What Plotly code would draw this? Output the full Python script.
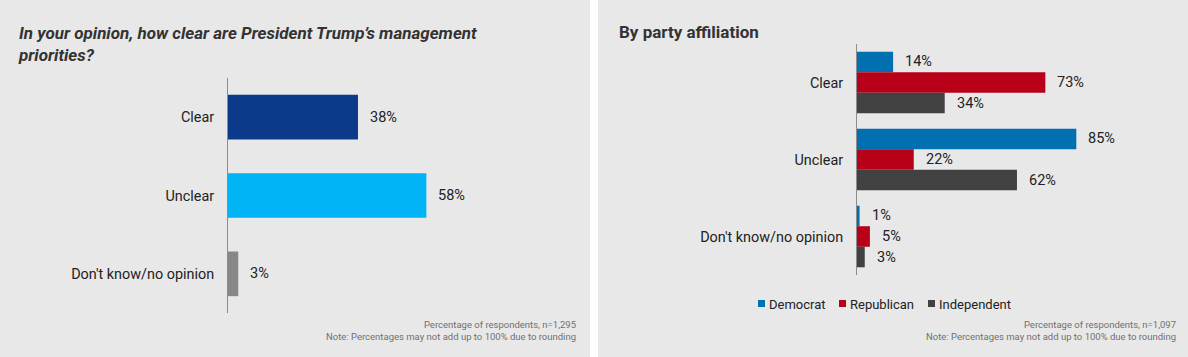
import plotly.graph_objects as go

# ---- data ----
categories = ["Clear", "Unclear", "Don't know/no opinion"]
overall_values = [38, 58, 3]
overall_colors = ["#0b3a8a", "#00b4f5", "#878787"]

party_names = ["Democrat", "Republican", "Independent"]
party_colors = ["#0070b0", "#b80018", "#414141"]
democrat = [14, 85, 1]
republican = [73, 22, 5]
independent = [34, 62, 3]
party_values = [democrat, republican, independent]

title_left = "In your opinion, how clear are President Trump\u2019s management<br>priorities?"
title_right = "By party affiliation"
note_left = "Percentage of respondents, n=1,295<br>Note: Percentages may not add up to 100% due to rounding"
note_right = "Percentage of respondents, n=1,097<br>Note: Percentages may not add up to 100% due to rounding"

W, H = 1188, 357
FONT = "Roboto"
BG = "#e8e8e8"

def px_x(p):
    return p / W

def px_y(p):
    return 1 - p / H

fig = go.Figure()

# left panel bars
fig.add_trace(go.Bar(
    x=overall_values, y=categories, orientation="h",
    marker=dict(color=overall_colors, line=dict(width=0)),
    width=0.57, xaxis="x", yaxis="y", showlegend=False, hoverinfo="skip",
))

# right panel grouped bars
bw = 0.8 / 3
for i, (name, col, vals) in enumerate(zip(party_names, party_colors, party_values)):
    fig.add_trace(go.Bar(
        x=vals, y=categories, orientation="h", name=name,
        marker=dict(color=col, line=dict(width=0)),
        width=bw, offset=-0.4 + i * bw,
        xaxis="x2", yaxis="y2", showlegend=False, hoverinfo="skip",
    ))

annotations = []
# value labels left
for j, v in enumerate(overall_values):
    annotations.append(dict(
        x=v, y=j, xref="x", yref="y", text=f"{v}%", showarrow=False,
        xanchor="left", yanchor="middle", xshift=10,
        font=dict(family=FONT, size=14.5, color="#222222"),
    ))
# value labels right
for i, vals in enumerate(party_values):
    for j, v in enumerate(vals):
        annotations.append(dict(
            x=v, y=j - 0.4 + (i + 0.5) * bw, xref="x2", yref="y2",
            text=f"{v}%", showarrow=False,
            xanchor="left", yanchor="middle", xshift=10,
            font=dict(family=FONT, size=14.5, color="#222222"),
        ))

# titles
annotations.append(dict(
    x=px_x(16), y=px_y(44), xref="paper", yref="paper",
    text=f"<b><i>{title_left}</i></b>", showarrow=False, align="left",
    xanchor="left", yanchor="middle",
    font=dict(family=FONT, size=17, color="#333333"),
))
annotations.append(dict(
    x=px_x(617), y=px_y(32), xref="paper", yref="paper",
    text=f"<b>{title_right}</b>", showarrow=False, align="left",
    xanchor="left", yanchor="middle",
    font=dict(family=FONT, size=17, color="#333333"),
))
# footnotes
annotations.append(dict(
    x=px_x(578), y=px_y(330.5), xref="paper", yref="paper",
    text=note_left, showarrow=False, align="right",
    xanchor="right", yanchor="middle",
    font=dict(family=FONT, size=9.5, color="#707070"),
))
annotations.append(dict(
    x=px_x(1178), y=px_y(330.5), xref="paper", yref="paper",
    text=note_right, showarrow=False, align="right",
    xanchor="right", yanchor="middle",
    font=dict(family=FONT, size=9.5, color="#707070"),
))

shapes = [
    dict(type="rect", xref="paper", yref="paper", x0=0, x1=px_x(590), y0=0, y1=1,
         fillcolor=BG, line=dict(width=0), layer="below"),
    dict(type="rect", xref="paper", yref="paper", x0=px_x(598), x1=1, y0=0, y1=1,
         fillcolor=BG, line=dict(width=0), layer="below"),
]

# custom legend
legend_sq_x = [758, 839, 928]
for name, col, sx in zip(party_names, party_colors, legend_sq_x):
    shapes.append(dict(
        type="rect", xref="paper", yref="paper",
        x0=px_x(sx), x1=px_x(sx + 7), y0=px_y(307), y1=px_y(300),
        fillcolor=col, line=dict(width=0),
    ))
    annotations.append(dict(
        x=px_x(sx + 9), y=px_y(304), xref="paper", yref="paper",
        text=name, showarrow=False, xanchor="left", yanchor="middle",
        font=dict(family=FONT, size=13, color="#222222"),
    ))

axis_common = dict(showgrid=False, zeroline=False, showticklabels=False, range=[0, 100], fixedrange=True)
yaxis_common = dict(
    type="category", autorange="reversed", showgrid=False, zeroline=False,
    showline=True, linecolor="#8c8c8c", linewidth=1,
    ticks="", ticklabelstandoff=10,
    tickfont=dict(family=FONT, size=14.4, color="#222222"),
)

fig.update_layout(
    width=W, height=H,
    margin=dict(l=0, r=0, t=0, b=0),
    paper_bgcolor="white", plot_bgcolor="rgba(0,0,0,0)",
    barmode="overlay",
    showlegend=False,
    xaxis=dict(domain=[px_x(228), px_x(570)], anchor="y", **axis_common),
    yaxis=dict(domain=[px_y(313), px_y(78)], anchor="x", **yaxis_common),
    xaxis2=dict(domain=[px_x(857), px_x(1115)], anchor="y2", **axis_common),
    yaxis2=dict(domain=[px_y(275), px_y(44)], anchor="x2", **yaxis_common),
    annotations=annotations,
    shapes=shapes,
    font=dict(family=FONT),
)

fig.write_html(
    "out.html",
    config={"displayModeBar": False},
    post_script="document.body.style.margin='0';document.body.style.overflow='hidden';",
)
